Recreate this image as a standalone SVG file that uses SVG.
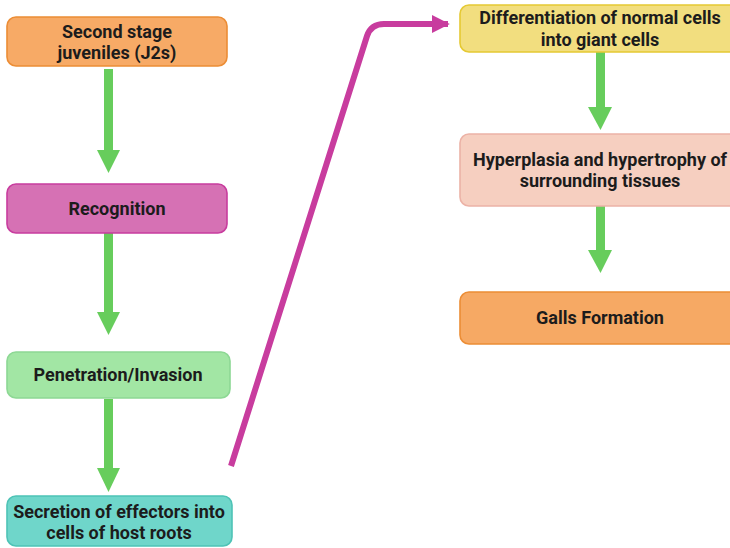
<svg xmlns="http://www.w3.org/2000/svg" width="730" height="548" viewBox="0 0 730 548">
<defs>
<style>
.box{stroke-width:1.6}
.t{font-family:Roboto,"Liberation Sans",sans-serif;font-weight:bold;font-size:18px;fill:#1c1c1c;text-anchor:middle}
.g{fill:#67cd5c}
</style>
<marker id="mh" viewBox="0 0 10 10" refX="9" refY="5" markerWidth="3" markerHeight="3" orient="auto" markerUnits="strokeWidth">
<path d="M0,0 L10,5 L0,10 Z" fill="#c83c9e"/>
</marker>
</defs>
<rect width="730" height="548" fill="#ffffff"/>
<g id="connectors">
<g class="g">
<rect x="104" y="69" width="9" height="83"/><path d="M97,150 L120,150 L108.5,173 Z"/>
<rect x="104" y="233" width="9" height="81"/><path d="M97,312 L120,312 L108.5,335 Z"/>
<rect x="104" y="399" width="9" height="71"/><path d="M97,468 L120,468 L108.5,492 Z"/>
<rect x="596" y="52" width="9" height="57"/><path d="M588,107 L612,107 L600.5,130 Z"/>
<rect x="596" y="206" width="9" height="46"/><path d="M588,250 L612,250 L600.5,273 Z"/>
</g>
<path d="M231,466 L367,36 Q371,24 384,24 L448,24" fill="none" stroke="#c83c9e" stroke-width="6" marker-end="url(#mh)"/>
</g>
<g id="n1">
<rect class="box" x="7" y="17" width="220" height="49" rx="9" fill="#f7aa66" stroke="#ec8d35"/>
<text class="t" x="117" y="38">Second stage</text>
<text class="t" x="117" y="59">juveniles (J2s)</text>
</g>
<g id="n2">
<rect class="box" x="7" y="184" width="220" height="49" rx="9" fill="#d671b4" stroke="#c83c9e"/>
<text class="t" x="117" y="215">Recognition</text>
</g>
<g id="n3">
<rect class="box" x="7" y="352" width="223" height="46" rx="9" fill="#a2e6a4" stroke="#8dd894"/>
<text class="t" x="118" y="381">Penetration/Invasion</text>
</g>
<g id="n4">
<rect class="box" x="7" y="496" width="225" height="50" rx="9" fill="#6fd6ca" stroke="#4ec3b6"/>
<text class="t" x="119" y="518">Secretion of effectors into</text>
<text class="t" x="119" y="539">cells of host roots</text>
</g>
<g id="n5">
<rect class="box" x="460" y="5" width="290" height="47" rx="9" fill="#f2de7f" stroke="#e5c933"/>
<text class="t" x="600" y="24">Differentiation of normal cells</text>
<text class="t" x="600" y="46">into giant cells</text>
</g>
<g id="n6">
<rect class="box" x="460" y="134" width="290" height="72" rx="9" fill="#f6cfc0" stroke="#ecb2a6"/>
<text class="t" x="600" y="166">Hyperplasia and hypertrophy of</text>
<text class="t" x="600" y="187">surrounding tissues</text>
</g>
<g id="n7">
<rect class="box" x="460" y="292" width="290" height="52" rx="9" fill="#f6a964" stroke="#ec8d35"/>
<text class="t" x="600" y="324">Galls Formation</text>
</g>
</svg>
